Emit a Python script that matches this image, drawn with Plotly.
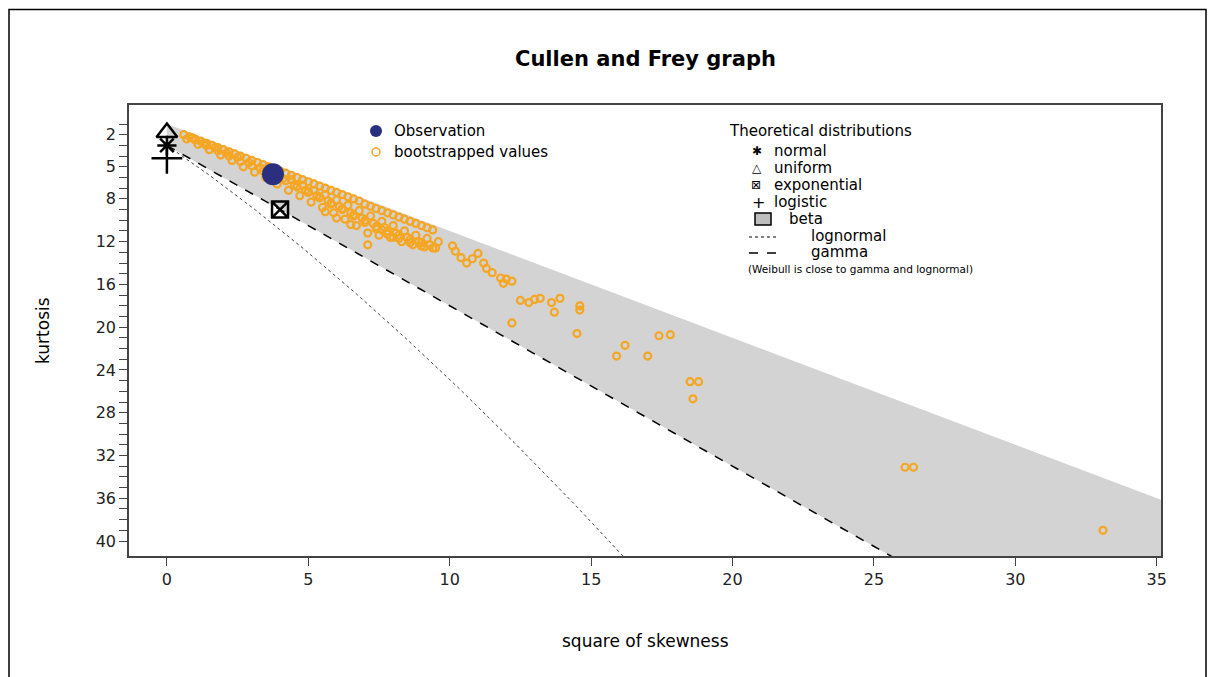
import numpy as np
import plotly.graph_objects as go

# bootstrapped (square of skewness, kurtosis) values
band_skew2 = [0.6, 0.8, 1.0, 1.2, 1.4, 1.6, 1.8, 2.0, 2.2, 2.4, 2.6, 2.8, 3.0, 3.2, 3.4,
              3.6, 3.8, 4.0, 4.2, 4.4, 4.6, 4.8, 5.0, 5.2, 5.4, 5.6, 5.8, 6.0, 6.2, 6.4,
              6.6, 6.8, 7.0, 7.2, 7.4, 7.6, 7.8, 8.0, 8.2, 8.4, 8.6, 8.8, 9.0, 9.2, 9.4,
              0.7, 1.1, 1.5, 1.9, 2.3, 2.7, 3.1, 3.5, 3.9, 4.3, 4.7, 5.1, 5.5, 5.9, 6.3,
              6.7, 7.1, 7.5, 7.9, 8.3, 8.7, 9.1, 9.5,
              0.9, 1.3, 1.7, 2.1, 2.5, 2.9, 3.3, 3.7, 4.1, 4.5, 4.9, 5.3, 5.7, 6.1, 6.5,
              6.9, 7.3, 7.7, 8.1, 8.5, 8.9, 9.3,
              1.0, 1.4, 1.8, 2.2, 2.6, 3.0, 3.4, 3.8, 4.2, 4.6, 5.0, 5.4, 5.8, 6.2, 6.6,
              7.0, 7.4, 7.8, 8.2, 8.6, 9.0,
              4.4, 4.8, 5.2, 5.6, 6.0, 6.4, 6.8, 7.2, 7.6, 8.0, 8.4, 8.8, 9.2, 9.6,
              4.6, 5.0, 5.4, 5.8, 6.2, 6.6, 7.0, 7.4, 7.8, 8.2, 8.6, 9.0, 9.4,
              5.6, 6.0, 6.5, 7.1, 7.6, 8.0]
band_kurt = [2.0, 2.2, 2.4, 2.6, 2.8, 3.0, 3.2, 3.4, 3.6, 3.8, 4.0, 4.2, 4.4, 4.6, 4.8,
             5.0, 5.2, 5.4, 5.6, 5.8, 6.0, 6.2, 6.4, 6.6, 6.8, 7.0, 7.2, 7.4, 7.6, 7.8,
             8.0, 8.2, 8.5, 8.7, 8.9, 9.1, 9.3, 9.5, 9.7, 9.9, 10.1, 10.3, 10.5, 10.7, 10.9,
             2.4, 2.9, 3.4, 3.9, 4.4, 5.0, 5.5, 6.0, 6.6, 7.2, 7.7, 8.3, 8.8, 9.3, 9.9,
             10.5, 11.2, 11.4, 11.6, 12.0, 12.3, 12.5, 12.6,
             2.3, 2.8, 3.2, 3.7, 4.1, 4.6, 5.1, 5.6, 6.1, 6.7, 7.2, 7.7, 8.2, 8.7, 9.3,
             9.8, 10.3, 10.7, 11.2, 11.6, 12.0, 12.3,
             2.5, 3.0, 3.5, 4.0, 4.5, 4.9, 5.4, 5.9, 6.3, 6.8, 7.3, 7.8, 8.4, 8.9, 9.5,
             10.0, 10.6, 11.0, 11.4, 11.8, 12.1,
             6.2, 6.7, 7.2, 7.6, 8.1, 8.6, 9.1, 9.6, 10.1, 10.5, 11.0, 11.4, 11.7, 12.0,
             6.9, 7.4, 7.9, 8.5, 9.0, 9.6, 10.2, 10.8, 11.3, 11.7, 12.1, 12.4, 12.6,
             9.2, 9.8, 10.4, 12.3, 10.9, 11.6]
scatter_skew2 = [10.1, 10.2, 10.4, 10.6, 10.8, 11.0, 11.2, 11.3, 11.5, 11.8, 11.9, 12.0, 12.2,
                 12.5, 12.8, 13.0, 13.2, 13.6, 13.7, 13.9, 12.2, 14.6, 14.6, 14.5,
                 15.9, 16.2, 17.0, 17.4, 17.8, 18.5, 18.8, 18.6, 26.1, 26.4, 33.1]
scatter_kurt = [12.4, 12.9, 13.5, 14.0, 13.6, 13.1, 14.0, 14.5, 14.9, 15.4, 15.9, 15.5, 15.7,
                17.5, 17.7, 17.4, 17.3, 17.7, 18.6, 17.3, 19.6, 18.0, 18.4, 20.6,
                22.7, 21.7, 22.7, 20.8, 20.7, 25.1, 25.1, 26.7, 33.1, 33.1, 39.0]

obs_skew2, obs_kurt = 3.75, 5.7

theo_names = ["normal", "uniform", "exponential", "logistic"]
theo_skew2 = [0, 0, 4, 0]
theo_kurt = [3, 1.8, 9, 4.2]
theo_symbols = ["asterisk-open", "triangle-up-open", "square-x-open", "cross-thin-open"]
theo_sizes = [16, 18, 16, 22]

ytick_vals = list(range(1, 41))
ytick_labels = {2: "2", 5: "5", 8: "8", 12: "12", 16: "16", 20: "20", 24: "24",
                28: "28", 32: "32", 36: "36", 40: "40"}

FONT = "DejaVu Sans, Arial, sans-serif"
OFF = 7  # page body offset
L, R, T, B = 128, 1160, 104, 555


def px(x):
    return (x - L) / (R - L)


def py(y):
    return (B - y) / (B - T)


fig = go.Figure()

# beta region: between kurtosis = s2 + 1 and gamma line kurtosis = 3 + 1.5 s2
fig.add_trace(go.Scatter(x=[0, 60, 60, 0], y=[1, 61, 93, 3], fill="toself",
                         fillcolor="#d3d3d3", line=dict(width=0), mode="lines",
                         hoverinfo="skip"))
s = np.linspace(0, 40, 50)
fig.add_trace(go.Scatter(x=s, y=3 + 1.5 * s, mode="lines",
                         line=dict(color="black", width=1.5, dash="dash")))
w = np.exp(np.linspace(1e-4, 0.8, 200))
fig.add_trace(go.Scatter(x=(w + 2) ** 2 * (w - 1), y=w ** 4 + 2 * w ** 3 + 3 * w ** 2 - 3,
                         mode="lines", line=dict(color="#444", width=1, dash="dot")))

for bx, bk in [(band_skew2, band_kurt), (scatter_skew2, scatter_kurt)]:
    fig.add_trace(go.Scatter(x=bx, y=bk, mode="markers",
                             marker=dict(symbol="circle-open", size=7, color="#f5a623",
                                         line=dict(width=2.2, color="#f5a623"))))
fig.add_trace(go.Scatter(x=[obs_skew2], y=[obs_kurt], mode="markers",
                         marker=dict(size=22, color="#2b2f80")))
for sx, ky, sym, sz in zip(theo_skew2, theo_kurt, theo_symbols, theo_sizes):
    fig.add_trace(go.Scatter(x=[sx], y=[ky], mode="markers",
                             marker=dict(symbol=sym, size=sz, color="black",
                                         line=dict(width=2.5, color="black"))))

ann = [dict(text="<b>Cullen and Frey graph</b>", x=0.5, y=py(58), size=21, xanchor="center"),
       dict(text="square of skewness", x=0.5, y=py(640), size=17, xanchor="center"),
       dict(text="Observation", x=px(391), y=py(130), size=15),
       dict(text="bootstrapped values", x=px(391), y=py(151), size=15),
       dict(text="Theoretical distributions", x=px(726), y=py(130), size=15),
       dict(text="✱", x=px(749), y=py(150), size=12),
       dict(text="normal", x=px(771), y=py(150), size=15),
       dict(text="△", x=px(749), y=py(167), size=12),
       dict(text="uniform", x=px(771), y=py(167), size=15),
       dict(text="⊠", x=px(748), y=py(184), size=12),
       dict(text="exponential", x=px(771), y=py(184), size=15),
       dict(text="+", x=px(749), y=py(201), size=16),
       dict(text="logistic", x=px(771), y=py(201), size=15),
       dict(text="beta", x=px(786), y=py(218), size=15),
       dict(text="lognormal", x=px(808), y=py(235), size=15),
       dict(text="gamma", x=px(808), y=py(251), size=15),
       dict(text="(Weibull is close to gamma and lognormal)", x=px(745), y=py(268), size=10.5)]
for a in ann:
    fig.add_annotation(text=a["text"], x=a["x"], y=a["y"], xref="paper", yref="paper",
                       xanchor=a.get("xanchor", "left"), yanchor="middle", showarrow=False,
                       font=dict(family=FONT, size=a["size"], color="black"))
fig.add_annotation(text="kurtosis", x=px(30), y=py(330), xref="paper", yref="paper",
                   textangle=-90, showarrow=False,
                   font=dict(family=FONT, size=17, color="black"))

# legend symbols drawn as shapes
fig.add_shape(type="circle", xref="paper", yref="paper", x0=px(369), x1=px(381),
              y0=py(136), y1=py(124), fillcolor="#2b2f80", line=dict(width=0))
fig.add_shape(type="circle", xref="paper", yref="paper", x0=px(371), x1=px(379),
              y0=py(155), y1=py(147), line=dict(color="#f5a623", width=1.5))
fig.add_shape(type="rect", xref="paper", yref="paper", x0=px(754), x1=px(770),
              y0=py(224), y1=py(212), fillcolor="#bebebe", line=dict(color="black", width=1.5))
fig.add_shape(type="line", xref="paper", yref="paper", x0=px(748), x1=px(776),
              y0=py(236), y1=py(236), line=dict(color="black", width=1, dash="dot"))
fig.add_shape(type="line", xref="paper", yref="paper", x0=px(748), x1=px(776),
              y0=py(252), y1=py(252), line=dict(color="black", width=1.5, dash="dash"))
# outer frame
fig.add_shape(type="rect", xref="paper", yref="paper", x0=px(8), x1=px(1205),
              y0=py(700), y1=py(8.5), line=dict(color="black", width=1.5))

fig.update_layout(
    width=1215, height=677, showlegend=False,
    margin=dict(l=L - OFF, r=1215 - R + OFF, t=T - OFF, b=677 - B + OFF),
    plot_bgcolor="white", paper_bgcolor="white",
    font=dict(family=FONT, size=16, color="#222"),
    xaxis=dict(range=[-1.34, 35.15], tickvals=[0, 5, 10, 15, 20, 25, 30, 35],
               ticks="outside", ticklen=8, showgrid=False, zeroline=False,
               showline=True, mirror=True, linecolor="#444", linewidth=1.5),
    yaxis=dict(range=[41.4, -0.78], tickvals=ytick_vals,
               ticktext=[ytick_labels.get(v, "") for v in ytick_vals],
               ticks="outside", ticklen=8, showgrid=False, zeroline=False,
               showline=True, mirror=True, linecolor="#444", linewidth=1.5),
)

fig.write_html("out.html")
